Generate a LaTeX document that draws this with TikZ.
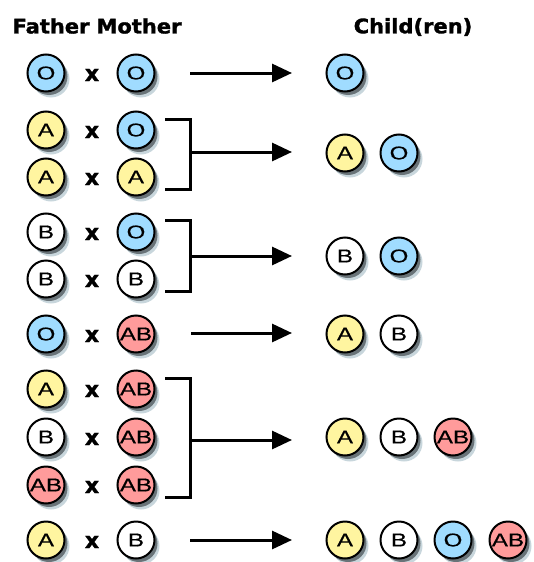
\documentclass[tikz,border=0pt]{standalone}
\usepackage{fontspec}
\usepackage{graphicx}
\setmainfont{Liberation Sans}
\newfontfamily\headfont{DejaVu Sans}[BoldFeatures={FakeBold=1.5}]
\newfontfamily\typefont{Liberation Sans}[FakeBold=0.4]
\usetikzlibrary{arrows.meta,shadows}

\definecolor{typeO}{RGB}{160,220,255}
\definecolor{typeA}{RGB}{255,245,160}
\definecolor{typeB}{RGB}{255,255,255}
\definecolor{typeAB}{RGB}{255,155,155}
\definecolor{halo}{RGB}{200,214,220}
\definecolor{dark}{RGB}{105,115,120}

\newcommand\wide[1]{\scalebox{1.3}[1]{#1}}
\newcommand\headtext[1]{\scalebox{1.05}[1]{\headfont\bfseries #1}}

\begin{document}
\begin{tikzpicture}[x=1pt,y=-1pt,
  blood/.style={circle, draw=black, line width=2pt, minimum size=37pt,
    inner sep=0pt, font=\typefont\fontsize{18.5}{18.5}\selectfont,
    drop shadow={opacity=1, shadow xshift=5pt, shadow yshift=-6pt, fill=halo},
    drop shadow={opacity=1, shadow xshift=3pt, shadow yshift=-3.5pt, fill=dark}},
  tO/.style={blood, fill=typeO},
  tA/.style={blood, fill=typeA},
  tB/.style={blood, fill=typeB},
  tAB/.style={blood, fill=typeAB},
  cross/.style={font=\headfont\bfseries\fontsize{22}{22}\selectfont, inner sep=0pt},
  head/.style={font=\fontsize{20}{20}\selectfont, inner sep=0pt},
  brk/.style={line width=3pt, line join=miter},
  arr/.style={line width=3pt, -{Triangle[length=20pt,width=18pt]}}
]
\useasboundingbox (0,0) rectangle (533,562);

% column headings
\node[head] (hf) at (51,26) {\headtext{Father}};
\node[head] (hm) at (139,26) {\headtext{Mother}};
\node[head] (hc) at (413,27) {\headtext{Child(ren)}};

% parent pairs
\node[tO] (f1) at (46,73) {\wide{O}};
\node[cross] (x1) at (92,75) {x};
\node[tO] (m1) at (136,73) {\wide{O}};

\node[tA] (f2) at (46,130) {\wide{A}};
\node[cross] (x2) at (92,132) {x};
\node[tO] (m2) at (136,130) {\wide{O}};

\node[tA] (f3) at (46,177) {\wide{A}};
\node[cross] (x3) at (92,179) {x};
\node[tA] (m3) at (136,177) {\wide{A}};

\node[tB] (f4) at (46,232) {\wide{B}};
\node[cross] (x4) at (92,234) {x};
\node[tO] (m4) at (136,232) {\wide{O}};

\node[tB] (f5) at (46,279) {\wide{B}};
\node[cross] (x5) at (92,281) {x};
\node[tB] (m5) at (136,279) {\wide{B}};

\node[tO] (f6) at (46,334) {\wide{O}};
\node[cross] (x6) at (92,336) {x};
\node[tAB] (m6) at (136,334) {\wide{AB}};

\node[tA] (f7) at (46,389) {\wide{A}};
\node[cross] (x7) at (92,391) {x};
\node[tAB] (m7) at (136,389) {\wide{AB}};

\node[tB] (f8) at (46,437) {\wide{B}};
\node[cross] (x8) at (92,439) {x};
\node[tAB] (m8) at (136,437) {\wide{AB}};

\node[tAB] (f9) at (46,485) {\wide{AB}};
\node[cross] (x9) at (92,487) {x};
\node[tAB] (m9) at (136,485) {\wide{AB}};

\node[tA] (f10) at (46,540) {\wide{A}};
\node[cross] (x10) at (92,542) {x};
\node[tB] (m10) at (136,540) {\wide{B}};

% children
\node[tO] (c1a) at (345,73) {\wide{O}};

\node[tA] (c2a) at (345,153) {\wide{A}};
\node[tO] (c2b) at (399,153) {\wide{O}};

\node[tB] (c3a) at (345,256) {\wide{B}};
\node[tO] (c3b) at (399,256) {\wide{O}};

\node[tA] (c4a) at (345,334) {\wide{A}};
\node[tB] (c4b) at (399,334) {\wide{B}};

\node[tA] (c5a) at (345,437) {\wide{A}};
\node[tB] (c5b) at (399,437) {\wide{B}};
\node[tAB] (c5c) at (453,437) {\wide{AB}};

\node[tA] (c6a) at (345,540) {\wide{A}};
\node[tB] (c6b) at (399,540) {\wide{B}};
\node[tO] (c6c) at (453,540) {\wide{O}};
\node[tAB] (c6d) at (508,540) {\wide{AB}};

% arrow and bracket anchor points
\coordinate (s1) at (190,73);  \coordinate (e1) at (292,73);
\coordinate (b2t) at (165,119); \coordinate (b2b) at (165,189);
\coordinate (s2) at (190,152); \coordinate (e2) at (292,152);
\coordinate (b3t) at (165,220); \coordinate (b3b) at (165,291);
\coordinate (s3) at (190,256); \coordinate (e3) at (292,256);
\coordinate (s4) at (191,333); \coordinate (e4) at (292,333);
\coordinate (b5t) at (165,378); \coordinate (b5b) at (165,497);
\coordinate (s5) at (190,440); \coordinate (e5) at (292,440);
\coordinate (s6) at (190,540); \coordinate (e6) at (292,540);

% brackets
\draw[brk] (b2t) -| (s2) |- (b2b);
\draw[brk] (b3t) -| (s3) |- (b3b);
\draw[brk] (b5t) -| (s5) |- (b5b);

% arrows
\draw[arr] (s1) -- (e1);
\draw[arr] (s2) -- (e2);
\draw[arr] (s3) -- (e3);
\draw[arr] (s4) -- (e4);
\draw[arr] (s5) -- (e5);
\draw[arr] (s6) -- (e6);
\end{tikzpicture}
\end{document}
